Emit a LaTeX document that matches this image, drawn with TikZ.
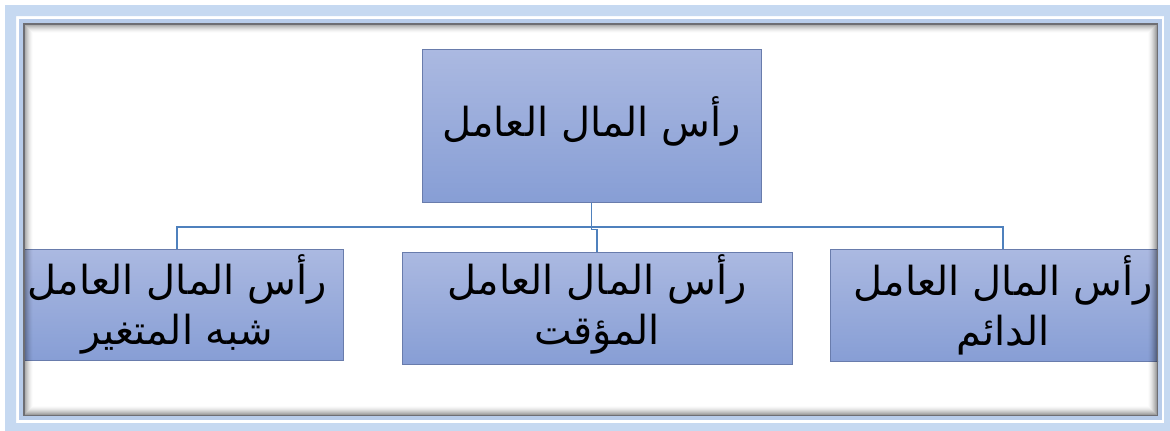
\documentclass[tikz,border=0pt]{standalone}
\usepackage{fontspec}
\newfontfamily\arabicfont[Script=Arabic]{DejaVu Sans}
\TeXXeTstate=1
\definecolor{bandblue}{RGB}{198,217,241}
\definecolor{thinblue}{RGB}{184,204,234}
\definecolor{boxtop}{RGB}{171,185,225}
\definecolor{boxbot}{RGB}{135,158,213}
\definecolor{boxborder}{RGB}{105,124,172}
\definecolor{connblue}{RGB}{79,129,189}
\definecolor{framegray}{RGB}{110,110,115}
\tikzset{
  boxnode/.style={draw=boxborder, line width=1pt, top color=boxtop, bottom color=boxbot, inner sep=0pt},
  conn/.style={draw=connblue, line width=1.1pt},
  lab/.style={font=\arabicfont\fontsize{40}{50}\selectfont, align=center, text=black, inner sep=0pt},
}
\begin{document}
\begin{tikzpicture}[x=1pt,y=-1pt]
\useasboundingbox (0,0) rectangle (1170,431);
\fill[white] (0,0) rectangle (1170,431);
% outer band
\fill[bandblue, even odd rule] (5,5) rectangle (1180,440) (16,16) rectangle (1164,423);
\draw[thinblue, line width=4pt] (21,21) rectangle (1160,418);
\begin{scope}
\clip (23,23) rectangle (1158,416);
\node[boxnode, minimum width=339pt, minimum height=153pt] (top) at (591.5,125.5) {};
\node[boxnode, minimum width=332pt, minimum height=111pt] (left) at (177,304.5) {};
\node[boxnode, minimum width=390pt, minimum height=112pt] (mid) at (597,308) {};
\node[boxnode, minimum width=346pt, minimum height=112pt] (right) at (1003,305) {};
\coordinate (bus) at (591.5,227);
\draw[conn] (left.north) |- (bus) -| (right.north);
\draw[conn] (top.south) -- ++(0,27) -| (mid.north);
\node[lab] (ttop) at (591.5,121) {\beginR رأس المال العامل\endR};
\node[lab] (tleft) at (177,304) {\beginR رأس المال العامل\endR\\\beginR شبه المتغير\endR};
\node[lab] (tmid) at (597,304) {\beginR رأس المال العامل\endR\\\beginR المؤقت\endR};
\node[lab] (tright) at (1003,305) {\beginR رأس المال العامل\endR\\\beginR الدائم\endR};
% inner shadow
\foreach \i in {0,...,9} {
  \pgfmathsetmacro{\op}{0.45*(1-\i/10)^1.6}
  \draw[black, opacity=\op, line width=1pt] (23.5+\i,23.5+\i) rectangle (1157.5-\i,415.5-\i);
}
\end{scope}
\draw[framegray, line width=1.5pt] (23.75,23.75) rectangle (1157.25,415.25);
\end{tikzpicture}
\end{document}
